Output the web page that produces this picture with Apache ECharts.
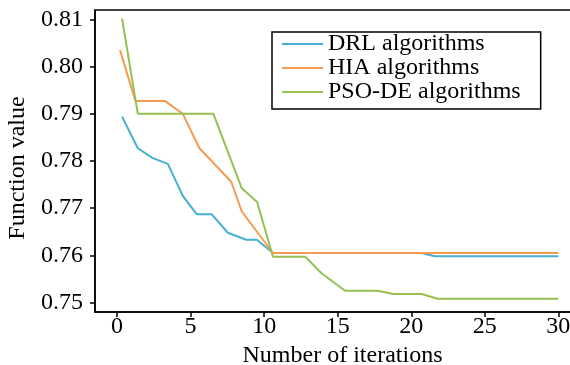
<!DOCTYPE html>
<html>
<head>
<meta charset="utf-8">
<script src="https://cdn.jsdelivr.net/npm/echarts@6/dist/echarts.min.js"></script>
<style>
  html, body { margin: 0; padding: 0; background: #fff; }
  #chart { width: 570px; height: 365px; }
</style>
</head>
<body>
<div id="chart"></div>
<script>
// Convergence curves, [iteration, function value].
const drl = [
  [0.34, 0.7894], [1.41, 0.7827], [2.43, 0.7806], [3.45, 0.7794], [4.47, 0.7726],
  [5.42, 0.7687], [6.44, 0.7687], [7.53, 0.7648], [8.78, 0.7633], [9.5, 0.7633],
  [10.6, 0.7605], [20.7, 0.7605], [21.6, 0.7598], [30, 0.7598],
];
const hia = [
  [0.2, 0.8035], [1.25, 0.7927], [3.27, 0.7927], [4.47, 0.79], [5.6, 0.7827],
  [7.76, 0.7756], [8.48, 0.7693], [10.6, 0.7605], [30, 0.7605],
];
const psoDe = [
  [0.34, 0.8102], [1.41, 0.79], [6.55, 0.79], [8.48, 0.7742], [9.52, 0.7713],
  [10.6, 0.7597], [12.8, 0.7597], [13.9, 0.7562], [15.5, 0.7525], [17.7, 0.7525],
  [18.8, 0.7518], [20.7, 0.7518], [21.8, 0.7508], [30, 0.7508],
];
const seriesNames = ["DRL algorithms", "HIA algorithms", "PSO-DE algorithms"];
const xTicks = [0, 5, 10, 15, 20, 25, 30];
const yTicks = [0.75, 0.76, 0.77, 0.78, 0.79, 0.80, 0.81];

const colors = ["#45b0d2", "#f79a50", "#97c052"];
const font = "'Liberation Serif', 'Times New Roman', serif";

const line = (name, data, i) => ({
  name,
  type: "line",
  data,
  showSymbol: false,
  symbol: "none",
  color: colors[i],
  lineStyle: { width: 2, color: colors[i] },
  animation: false,
});

const chart = echarts.init(document.getElementById("chart"));
chart.setOption({
  animation: false,
  textStyle: { fontFamily: font },
  // the plot frame runs off the right edge of the picture
  grid: {
    left: 95, top: 10, right: -6, bottom: 53,
    outerBoundsMode: "none",
    containLabel: false,
    show: true, borderColor: "#000", borderWidth: 1.5,
  },
  legend: {
    orient: "vertical",
    left: 272, top: 32,
    padding: [0, 20, 5, 10],
    itemGap: 0,
    itemWidth: 41, itemHeight: 2,
    icon: "rect",
    backgroundColor: "#fff",
    borderColor: "#000", borderWidth: 1.5,
    textStyle: { fontFamily: font, fontSize: 24, lineHeight: 23.5, color: "#000" },
    data: seriesNames,
  },
  xAxis: {
    type: "value",
    min: -1.5, max: 31.2,
    name: "Number of iterations",
    nameLocation: "middle",
    nameGap: 29,
    nameTextStyle: { fontFamily: font, fontSize: 24, color: "#000", padding: [0, 0, 0, 14] },
    axisLine: { show: true, onZero: false, lineStyle: { color: "#000", width: 1.5 } },
    axisTick: { show: true, length: 5, customValues: xTicks, lineStyle: { color: "#000", width: 1.5 } },
    axisLabel: { customValues: xTicks, margin: 3, fontFamily: font, fontSize: 24, color: "#000" },
    splitLine: { show: false },
  },
  yAxis: {
    type: "value",
    min: 0.748, max: 0.812,
    name: "Function value",
    nameLocation: "middle",
    nameGap: 61,
    nameTextStyle: { fontFamily: font, fontSize: 24, color: "#000", padding: [0, 14, 0, 0] },
    axisLine: { show: true, onZero: false, lineStyle: { color: "#000", width: 1.5 } },
    axisTick: { show: true, length: 5, customValues: yTicks, lineStyle: { color: "#000", width: 1.5 } },
    axisLabel: {
      customValues: yTicks, margin: 12, fontFamily: font, fontSize: 24, color: "#000",
      formatter: (v) => v.toFixed(2),
    },
    splitLine: { show: false },
  },
  series: [line(seriesNames[0], drl, 0), line(seriesNames[1], hia, 1), line(seriesNames[2], psoDe, 2)],
});
</script>
</body>
</html>
